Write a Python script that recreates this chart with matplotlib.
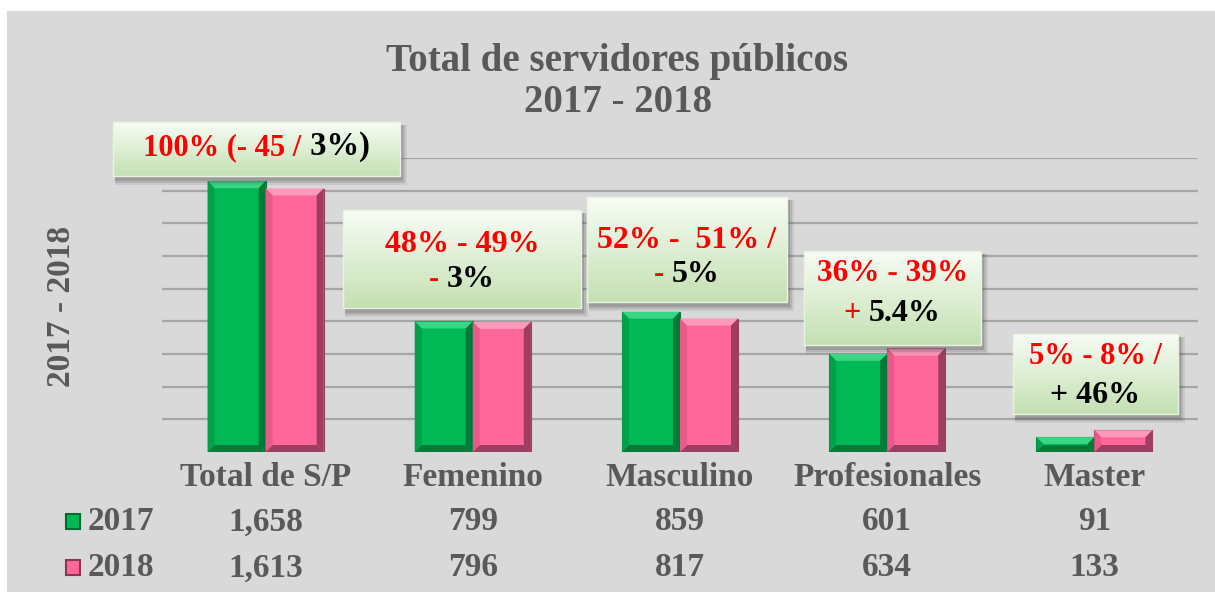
import numpy as np
import matplotlib
matplotlib.use("Agg")
import matplotlib.pyplot as plt
import matplotlib.transforms as mtransforms
from matplotlib.patches import Rectangle, Polygon

# data
categories = ["Total de S/P", "Femenino", "Masculino", "Profesionales", "Master"]
years = ["2017", "2018"]
v2017 = [1658, 799, 859, 601, 91]
v2018 = [1613, 796, 817, 634, 133]
labels2017 = ["1,658", "799", "859", "601", "91"]
labels2018 = ["1,613", "796", "817", "634", "133"]

RED = "#ff0000"
BLK = "#000000"
GRAY_TXT = "#595959"
SERIF = "Liberation Serif"

# annotation boxes: (left, top, right, bottom) in pixels, lines of (text, color, size)
boxes = [
    ((113, 122, 400, 176), [(155, [("100% (- 45 /", RED, 22), (" 3%)", BLK, 23.5)])]),
    ((343, 210, 581, 308), [(252, [("48% - 49%", RED, 23)]),
                            (287, [("- ", RED, 22), ("3%", BLK, 23)])]),
    ((587, 197, 787, 302), [(248, [("52% -  51% /", RED, 23)]),
                            (282, [("- ", RED, 22), ("5%", BLK, 23)])]),
    ((804, 251, 981, 345), [(281, [("36% - 39%", RED, 22.5)]),
                            (321, [("+ ", RED, 22), ("5.4%", BLK, 23)])]),
    ((1013, 334, 1178, 414), [(364, [("5% - 8% /", RED, 22)]),
                              (403, [("+ 46%", BLK, 23)])]),
]

W, H = 1215, 599
fig = plt.figure(figsize=(W / 100, H / 100), dpi=100)
fig.patch.set_facecolor("white")

# gray panel
bg = fig.add_axes([0, 0, 1, 1], zorder=-5)
bg.set_xlim(0, W); bg.set_ylim(H, 0); bg.axis("off")
bg.add_patch(Rectangle((7, 11), W - 7, 581, facecolor="#d9d9d9", edgecolor="none"))

ax = fig.add_axes([162 / W, 1 - 452 / H, (1198 - 162) / W, (452 - 158) / H])
ax.patch.set_alpha(0)
ax.set_xlim(-0.5, len(categories) - 0.5)
ax.set_ylim(0, 1800)
ax.set_yticks(np.arange(200, 1801, 200))
ax.yaxis.grid(True, color="#a6a6a6", linewidth=1.6)
ax.set_axisbelow(True)
ax.tick_params(left=False, bottom=False, labelleft=False, labelbottom=False)
for s in ax.spines.values():
    s.set_visible(False)

x = np.arange(len(categories))
bw = 0.28
px_x = 1 / 207.2          # data units per pixel, x
px_y = 1800 / 294.0       # data units per pixel, y


def bevel_bar(x0, w, h, base, light, dark, side):
    ax.bar(x0 + w / 2, h, w, color=base, edgecolor=dark, linewidth=0.8, zorder=2)
    dy = min(7 * px_y, h / 2.2)
    dx = min(7 * px_x, dy / px_y * px_x)
    x1 = x0 + w
    faces = [
        ([(x0, h), (x1, h), (x1 - dx, h - dy), (x0 + dx, h - dy)], light),
        ([(x1, h), (x1, 0), (x1 - dx, dy), (x1 - dx, h - dy)], dark),
        ([(x0, 0), (x1, 0), (x1 - dx, dy), (x0 + dx, dy)], dark),
        ([(x0, 0), (x0, h), (x0 + dx, h - dy), (x0 + dx, dy)], side),
    ]
    for pts, c in faces:
        ax.add_patch(Polygon(pts, closed=True, facecolor=c, edgecolor="none", zorder=3))


for i in range(len(categories)):
    bevel_bar(x[i] - bw, bw, v2017[i], "#00b954", "#3ad585", "#007a37", "#02a049")
    bevel_bar(x[i], bw, v2018[i], "#ff6699", "#ff99bb", "#9c3d62", "#e85a8a")

# overlay in pixel coordinates
ov = fig.add_axes([0, 0, 1, 1], zorder=10)
ov.set_xlim(0, W); ov.set_ylim(H, 0); ov.axis("off")
ov.patch.set_alpha(0)
renderer = fig.canvas.get_renderer()


def rich_line(xc, y, parts):
    texts = [ov.text(0, y, s, color=c, fontsize=fs, fontweight="bold", family=SERIF,
                     va="baseline", ha="left") for s, c, fs in parts]
    widths = [t.get_window_extent(renderer).width for t in texts]
    xx = xc - sum(widths) / 2
    for t, wd in zip(texts, widths):
        t.set_x(xx)
        xx += wd


grad = np.linspace(0, 1, 64)[:, None]
top_c = np.array([0.97, 0.99, 0.96])
bot_c = np.array([0.77, 0.88, 0.70])
img = top_c[None, None, :] * (1 - grad[..., None]) + bot_c[None, None, :] * grad[..., None]
img = np.repeat(img, 2, axis=1)

for (l, t, r, b), lines in boxes:
    for k, a in [(7, 0.10), (5, 0.15), (3, 0.2)]:
        ov.add_patch(Rectangle((l + 2, t + 3), r - l + k - 2, b - t + k - 1,
                               facecolor="#404040", alpha=a, edgecolor="none"))
    ov.imshow(img, extent=(l, r, b, t), aspect="auto", interpolation="bilinear", zorder=2)
    ov.add_patch(Rectangle((l, t), r - l, b - t, facecolor="none",
                           edgecolor="#eaf3e3", linewidth=1, zorder=3))
    for y, parts in lines:
        rich_line((l + r) / 2, y, parts)

ov.set_xlim(0, W); ov.set_ylim(H, 0)

# titles
ov.text(617, 61, "Total de servidores públicos", ha="center", va="center",
        fontsize=28, fontweight="bold", family=SERIF, color=GRAY_TXT)
ov.text(618, 102, "2017 - 2018", ha="center", va="center",
        fontsize=28, fontweight="bold", family=SERIF, color=GRAY_TXT)
ov.text(62, 306, "2017 - 2018", ha="center", va="center", rotation=90,
        fontsize=24, fontweight="bold", family=SERIF, color=GRAY_TXT)

# category labels and data table
bt = mtransforms.blended_transform_factory(ax.transData, ov.transData)
for i, cat in enumerate(categories):
    ax.text(x[i], 477, cat, transform=bt, ha="center", va="center",
            fontsize=24, fontweight="bold", family=SERIF, color=GRAY_TXT, clip_on=False)
    ax.text(x[i], 522, labels2017[i], transform=bt, ha="center", va="center",
            fontsize=24, fontweight="bold", family=SERIF, color=GRAY_TXT, clip_on=False)
    ax.text(x[i], 568, labels2018[i], transform=bt, ha="center", va="center",
            fontsize=24, fontweight="bold", family=SERIF, color=GRAY_TXT, clip_on=False)

for yr, yy, fc, ec in [(years[0], 522, "#00b954", "#006b30"), (years[1], 568, "#ff6699", "#8c3558")]:
    ov.add_patch(Rectangle((66, yy - 8), 14, 15, facecolor=fc, edgecolor=ec, linewidth=1.5))
    ov.text(88, yy, yr, ha="left", va="center", fontsize=24, fontweight="bold",
            family=SERIF, color=GRAY_TXT)

fig.savefig("out.png", dpi=100, facecolor=fig.get_facecolor())
